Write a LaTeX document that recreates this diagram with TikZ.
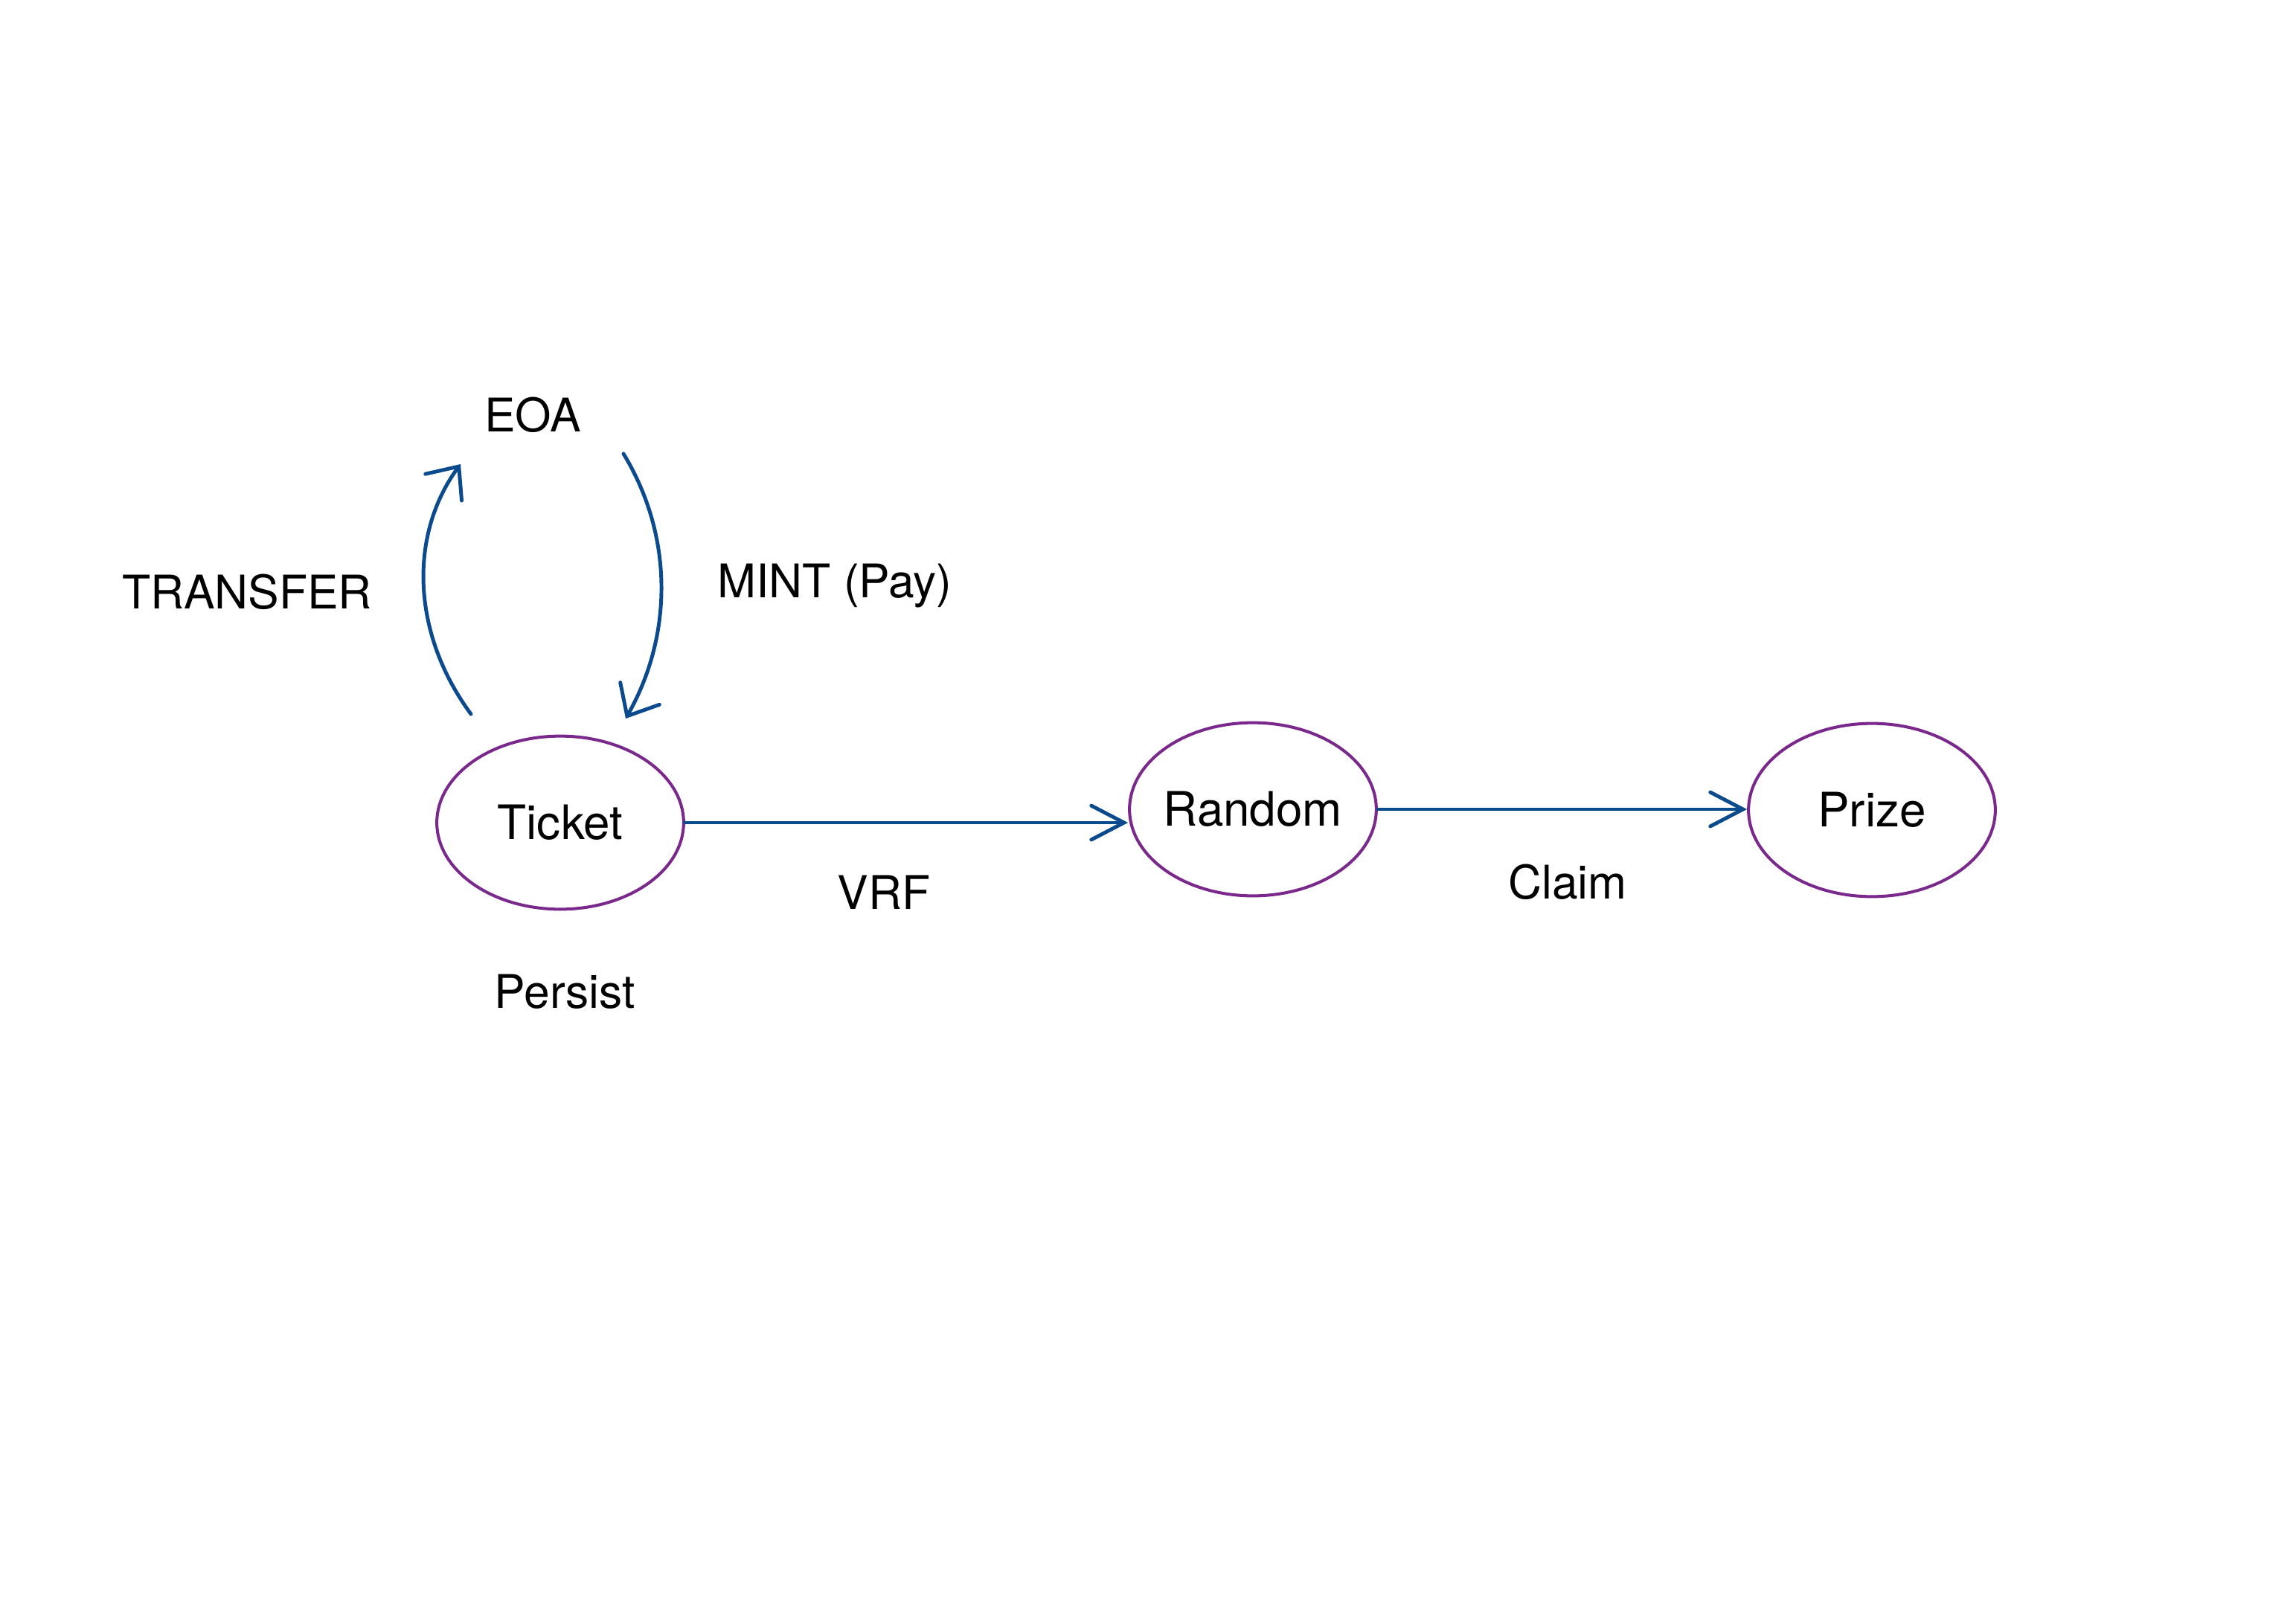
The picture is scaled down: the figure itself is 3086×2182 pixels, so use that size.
\documentclass[tikz,border=0pt]{standalone}
\usepackage{fontspec}
\setmainfont{TeX Gyre Heros}
\usetikzlibrary{arrows.meta,shapes.geometric}
\definecolor{lineblue}{RGB}{12,74,142}
\definecolor{ellpurple}{RGB}{122,40,140}
\tikzset{
  state/.style={ellipse, draw=ellpurple, line width=1.1pt, minimum width=90.5pt, minimum height=63.5pt, inner sep=0pt, font=\fontsize{17.4}{20}\selectfont},
  lbl/.style={anchor=base, inner sep=0pt, font=\fontsize{17}{20}\selectfont},
  conn/.style={draw=lineblue, line width=1.35pt, line cap=round, line join=round},
  straighthead/.style={-{Straight Barb[length=12pt,width=12.5pt,line cap=round]}},
  curvehead/.style={-{Straight Barb[length=9.5pt,width=16.5pt,line cap=round]}}
}
\begin{document}
\begin{tikzpicture}[x=0.2728pt,y=-0.2728pt]
\useasboundingbox (0,0) rectangle (3086,2182);
\node[state] (ticket) at (753,1106) {\makebox[0pt]{Ticket}};
\node[state] (random) at (1684,1088) {\makebox[0pt]{Random}};
\node[state] (prize) at (2516,1089) {\makebox[0pt]{Prize}};
\node[lbl] (eoa) at (716,580) {EOA};
\node[lbl] (transfer) at (332,818) {TRANSFER};
\node[lbl] (mint) at (1122,803) {MINT (Pay)};
\node[lbl] (vrf) at (1188,1222) {VRF};
\node[lbl] (claim) at (2107,1208) {Claim};
\node[lbl] (persist) at (759,1355) {Persist};
\coordinate (tstart) at (633,960);
\coordinate (tend) at (619,624);
\coordinate (mstart) at (838,610);
\coordinate (mend) at (841,966);
\draw[conn,curvehead] (tstart) .. controls (552,850) and (550,718) .. (tend);
\draw[conn,curvehead] (mstart) .. controls (905,720) and (905,853) .. (mend);
\draw[conn,straighthead] (ticket.east) -- (random.west |- ticket.east);
\draw[conn,straighthead] (random.east) -- (prize.west |- random.east);
\end{tikzpicture}
\end{document}
